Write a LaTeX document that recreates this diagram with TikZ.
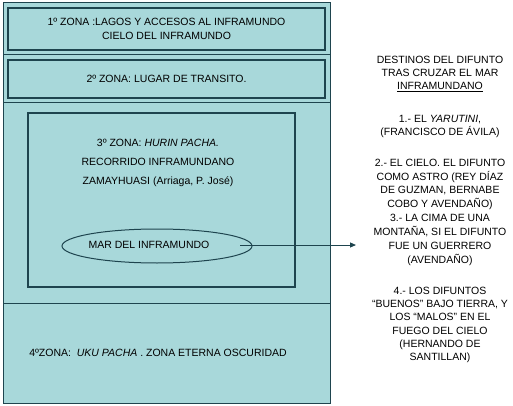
\documentclass[tikz,border=0pt]{standalone}
\usepackage{fontspec}
\setmainfont{Liberation Sans}
\usepackage{tikz}
\usetikzlibrary{positioning,shapes.geometric,arrows.meta}
\definecolor{ZoneFill}{RGB}{168,216,218}
\definecolor{ZoneLine}{RGB}{30,68,78}
\tikzset{
    zone_text/.style={font=\fontsize{10.5}{13.3}\selectfont, align=center, inner sep=0pt, text=black}
}

\begin{document}
\begin{tikzpicture}[
        x=1pt, y=-1pt,
        % --- STYLE CHUNG ---
        region/.style={
            rectangle,
            draw=ZoneLine,
            fill=ZoneFill,
            line width=1pt,
            minimum width=327pt,
            inner sep=0pt
        },
        % Hop trong cac zona
        zone_box/.style={
            rectangle,
            draw=ZoneLine,
            fill=ZoneFill,
            line width=1.2pt,
            inner sep=0pt,
            zone_text
        },
        % Elipse del mar
        sea_node/.style={
            ellipse,
            draw=ZoneLine,
            line width=1pt,
            minimum width=190pt,
            minimum height=34pt,
            inner sep=0pt
        },
        % Flecha
        arrow_line/.style={
            draw=ZoneLine,
            line width=1pt,
            -{Triangle[length=6pt,width=5pt]}
        }
    ]
        \useasboundingbox (0,0) rectangle (513,406);

        % --- CUATRO REGIONES ---
        \node[region, minimum height=52pt] (region1) at (166.5,29) {};
        \node[region, minimum height=48pt] (region2) at (166.5,79) {};
        \node[region, minimum height=200pt] (region3) at (166.5,203) {};
        \node[region, minimum height=100pt] (region4) at (166.5,353) {};

        % --- ZONAS ---
        \node[zone_box, minimum width=317pt, minimum height=42pt] (zona1) at (166.5,29)
            {1º ZONA :LAGOS Y ACCESOS AL INFRAMUNDO\\CIELO DEL INFRAMUNDO};
        \node[zone_box, minimum width=317pt, minimum height=38pt] (zona2) at (166.5,79)
            {2º ZONA: LUGAR DE TRANSITO.};
        \node[zone_box, minimum width=267pt, minimum height=174pt] (zona3) at (161.5,200) {};
        \node[zone_text, font=\fontsize{10.5}{19}\selectfont] (zona3_text) at (158,162.5)
            {3º ZONA: \textit{HURIN PACHA.}\\RECORRIDO INFRAMUNDANO\\ZAMAYHUASI (Arriaga, P. José)};
        \node[zone_text] (zona4_text) at (158,353)
            {4ºZONA:\ \ \textit{UKU PACHA} . ZONA ETERNA OSCURIDAD};

        % --- MAR DEL INFRAMUNDO ---
        \node[sea_node] (mar) at (157,246) {};
        \node[zone_text] (mar_text) at (149,245) {MAR DEL INFRAMUNDO};

        \coordinate (arrow_start) at (240,245);
        \coordinate (arrow_end) at (356,245);
        \draw[arrow_line] (arrow_start) -- (arrow_end);

        % --- DESTINOS DEL DIFUNTO ---
        \node[zone_text] (destinos) at (440,74)
            {DESTINOS DEL DIFUNTO\\TRAS CRUZAR EL MAR\\\underline{INFRAMUNDANO}};
        \node[zone_text] (destino1) at (440,126.5)
            {1.- EL \textit{YARUTINI},\\(FRANCISCO DE ÁVILA)};
        \node[zone_text, font=\fontsize{10.5}{13.6}\selectfont] (destino2) at (440,184.5)
            {2.- EL CIELO. EL DIFUNTO\\COMO ASTRO (REY DÍAZ\\DE GUZMAN, BERNABE\\COBO Y AVENDAÑO)};
        \node[zone_text, font=\fontsize{10.5}{14}\selectfont] (destino3) at (440,240)
            {3.- LA CIMA DE UNA\\MONTAÑA, SI EL DIFUNTO\\FUE UN GUERRERO\\(AVENDAÑO)};
        \node[zone_text] (destino4) at (440,325)
            {4.- LOS DIFUNTOS\\“BUENOS” BAJO TIERRA, Y\\LOS “MALOS” EN EL\\FUEGO DEL CIELO\\(HERNANDO DE\\SANTILLAN)};

    \end{tikzpicture}
\end{document}
